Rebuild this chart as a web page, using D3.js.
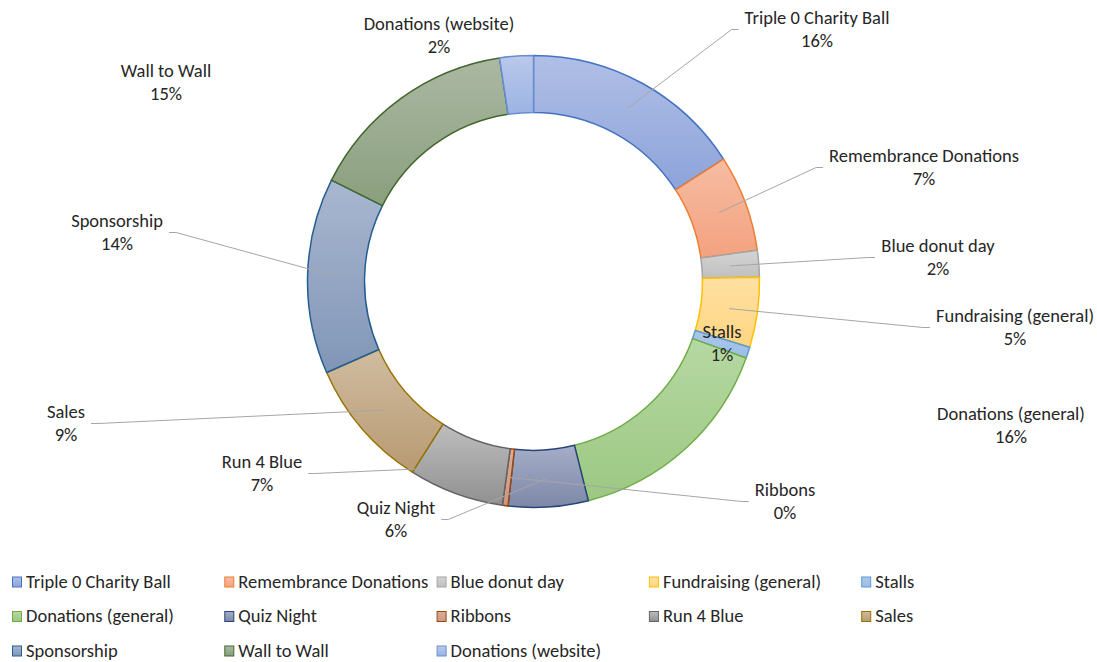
<!DOCTYPE html>
<html>
<head>
<meta charset="utf-8">
<script src="https://cdn.jsdelivr.net/npm/d3@7"></script>
<style>
    body { margin: 0; background: #fff; }
    svg { display: block; font-family: Calibri, Carlito, Lato, sans-serif; }
    .lbl { fill: #262626; font-size: 18.5px; }
    .leg { fill: #262626; font-size: 18.5px; }
    .leader { fill: none; stroke: #a6a6a6; stroke-width: 1; }
</style>
</head>
<body>
<script>
//slice categories, clockwise from the top
var categories = ["Triple 0 Charity Ball", "Remembrance Donations", "Blue donut day",
    "Fundraising (general)", "Stalls", "Donations (general)", "Quiz Night", "Ribbons",
    "Run 4 Blue", "Sales", "Sponsorship", "Wall to Wall", "Donations (website)"];

//share of funds raised, percent
var shares = [15.9, 6.9, 1.9, 5.0, 0.8, 15.6, 5.7, 0.4, 6.8, 9.4, 14.0, 15.2, 2.4];

//slice outline colours (Office palette)
var colors = ["#4472c4", "#ed7d31", "#a5a5a5", "#ffc000", "#5b9bd5", "#70ad47",
    "#264478", "#9e480e", "#636363", "#997300", "#255e91", "#43682b", "#698ed0"];

//gradient fill, top and bottom stop
var fillTop = ["#b0bfe6", "#f6bca3", "#d4d4d4", "#ffe0a3", "#aac8ea", "#b6d8a3",
    "#a5adc7", "#dbae9d", "#bebebe", "#d0bca0", "#a9b7d0", "#abb8a3", "#bac9eb"];
var fillBottom = ["#8da3da", "#f3a27f", "#bfbfbf", "#ffd580", "#9dbde6", "#9cc882",
    "#7d88a8", "#c99883", "#909090", "#b89a72", "#8196b7", "#8a9f7e", "#9bb3e3"];

//where the data labels were dragged to (centre of the two-line label), and whether a leader is drawn
var labelSpots = {
    "Triple 0 Charity Ball": [817, 29.5, true],
    "Remembrance Donations": [924, 167.5, true],
    "Blue donut day": [938, 257.5, true],
    "Fundraising (general)": [1015, 327.5, true],
    "Stalls": [722, 343.5, false],
    "Donations (general)": [1011, 425.5, false],
    "Quiz Night": [396, 519.5, true],
    "Ribbons": [785, 501.5, true],
    "Run 4 Blue": [262, 473.5, true],
    "Sales": [66, 423.5, true],
    "Sponsorship": [117, 232.5, true],
    "Wall to Wall": [166, 82.5, false],
    "Donations (website)": [439, 35, false]
};

var data = categories.map(function(c, i){
    return {name: c, value: shares[i], color: colors[i]};
});

window.onload = drawChart();

function drawChart(){
    var width = 1097,
        height = 662,
        cx = 533.5,
        cy = 281.4,
        outerR = 226,
        innerR = 169;

    var svg = d3.select("body")
        .append("svg")
        .attr("width", width)
        .attr("height", height);

    var defs = svg.append("defs");

    //vertical gradient per slice, lighter at the top
    data.forEach(function(d, i){
        var g = defs.append("linearGradient")
            .attr("id", "grad" + i)
            .attr("x1", 0).attr("y1", 0)
            .attr("x2", 0).attr("y2", 1);
        g.append("stop").attr("offset", "0%").attr("stop-color", fillTop[i]);
        g.append("stop").attr("offset", "100%").attr("stop-color", fillBottom[i]);
    });

    var total = d3.sum(shares);

    var pie = d3.pie()
        .value(function(d){ return d.value; })
        .sort(null);

    var arc = d3.arc()
        .innerRadius(innerR)
        .outerRadius(outerR);

    var arcs = pie(data);

    var chart = svg.append("g")
        .attr("transform", "translate(" + cx + "," + cy + ")");

    chart.selectAll(".slice")
        .data(arcs)
        .enter()
        .append("path")
        .attr("class", "slice")
        .attr("d", arc)
        .attr("fill", function(d, i){ return "url(#grad" + i + ")"; })
        .attr("stroke", function(d){ return d.data.color; })
        .attr("stroke-width", 1.5)
        .attr("stroke-linejoin", "round");

    var pct = d3.format(".0%");
    var lineGap = 23;

    //data labels
    var labels = svg.append("g");
    var leaders = svg.append("g");

    arcs.forEach(function(a){
        var spot = labelSpots[a.data.name];
        var t = labels.append("text")
            .attr("class", "lbl")
            .attr("text-anchor", "middle");
        t.append("tspan")
            .attr("x", spot[0])
            .attr("y", spot[1] - lineGap / 2)
            .attr("dy", "0.35em")
            .text(a.data.name);
        t.append("tspan")
            .attr("x", spot[0])
            .attr("y", spot[1] + lineGap / 2)
            .attr("dy", "0.35em")
            .text(pct(a.data.value / total));

        if (spot[2]) {
            var c = arc.centroid(a);
            var sx = cx + c[0],
                sy = cy + c[1];
            var halfW = t.node().getBBox().width / 2 + 6;
            var edge = spot[0] > sx ? spot[0] - halfW : spot[0] + halfW;
            var elbow = spot[0] > sx ? edge - 7 : edge + 7;
            leaders.append("path")
                .attr("class", "leader")
                .attr("d", d3.line()([[sx, sy], [elbow, spot[1]], [edge, spot[1]]]));
        }
    });

    //legend, five entries per row
    var legend = svg.append("g");
    var colW = 212.3,
        rowH = 34.5,
        legX = 12,
        legY = 582;

    var items = legend.selectAll(".item")
        .data(data)
        .enter()
        .append("g")
        .attr("class", "item")
        .attr("transform", function(d, i){
            return "translate(" + (legX + (i % 5) * colW) + "," + (legY + Math.floor(i / 5) * rowH) + ")";
        });

    items.append("rect")
        .attr("x", 0.5)
        .attr("y", -5)
        .attr("width", 9)
        .attr("height", 10)
        .attr("fill", function(d, i){ return "url(#grad" + i + ")"; })
        .attr("stroke", function(d){ return d.color; })
        .attr("stroke-width", 1);

    items.append("text")
        .attr("class", "leg")
        .attr("x", 14)
        .attr("y", 0)
        .attr("dy", "0.3em")
        .text(function(d){ return d.name; });
}
</script>
</body>
</html>
